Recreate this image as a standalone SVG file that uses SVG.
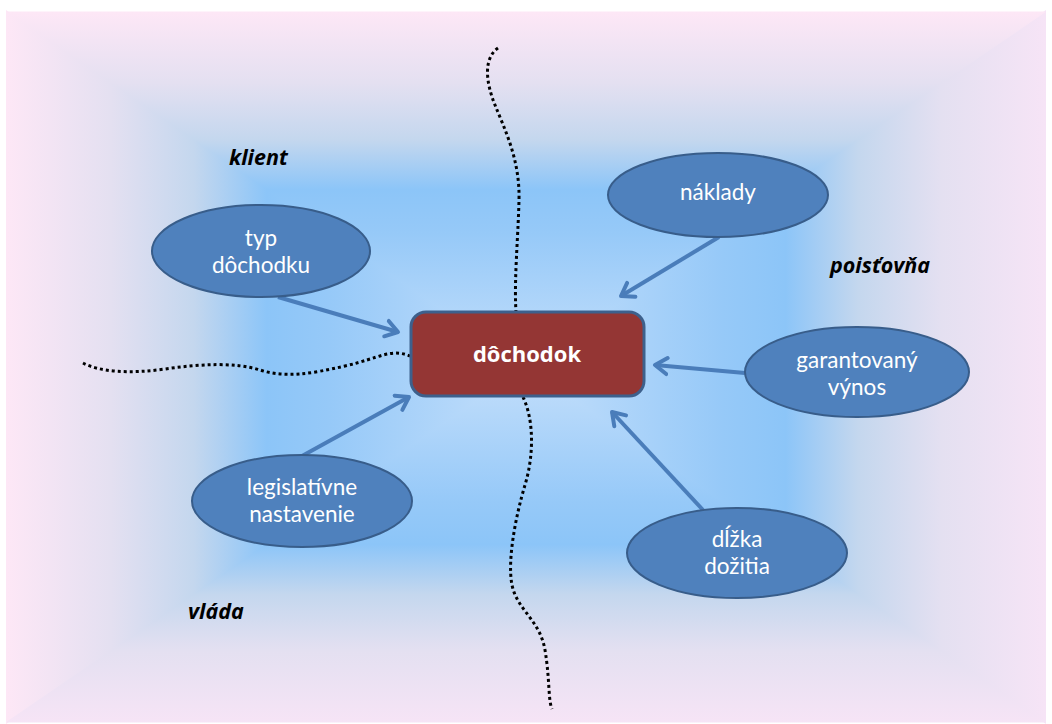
<svg xmlns="http://www.w3.org/2000/svg" width="1052" height="724" viewBox="0 0 1052 724">
  <defs>
    <linearGradient id="gTop" gradientUnits="userSpaceOnUse" x1="0" y1="12" x2="0" y2="367">
      <stop offset="0" stop-color="#fde7f6"/>
      <stop offset="0.2" stop-color="#e4e0f1"/>
      <stop offset="0.36" stop-color="#c4d7ee"/>
      <stop offset="0.5" stop-color="#8cc5f8"/>
      <stop offset="0.62" stop-color="#96c9f8"/>
      <stop offset="1" stop-color="#c4dffb"/>
    </linearGradient>
    <linearGradient id="gBot" gradientUnits="userSpaceOnUse" x1="0" y1="722" x2="0" y2="367">
      <stop offset="0" stop-color="#f6e4f6"/>
      <stop offset="0.2" stop-color="#e4e0f1"/>
      <stop offset="0.36" stop-color="#c4d7ee"/>
      <stop offset="0.5" stop-color="#8cc5f8"/>
      <stop offset="0.62" stop-color="#96c9f8"/>
      <stop offset="1" stop-color="#c4dffb"/>
    </linearGradient>
    <linearGradient id="gLeft" gradientUnits="userSpaceOnUse" x1="7" y1="0" x2="526" y2="0">
      <stop offset="0" stop-color="#fde7f6"/>
      <stop offset="0.2" stop-color="#e4e0f1"/>
      <stop offset="0.36" stop-color="#c4d7ee"/>
      <stop offset="0.5" stop-color="#8cc5f8"/>
      <stop offset="0.62" stop-color="#96c9f8"/>
      <stop offset="1" stop-color="#c4dffb"/>
    </linearGradient>
    <linearGradient id="gRight" gradientUnits="userSpaceOnUse" x1="1045" y1="0" x2="526" y2="0">
      <stop offset="0" stop-color="#f6e4f6"/>
      <stop offset="0.2" stop-color="#e4e0f1"/>
      <stop offset="0.36" stop-color="#c4d7ee"/>
      <stop offset="0.5" stop-color="#8cc5f8"/>
      <stop offset="0.62" stop-color="#96c9f8"/>
      <stop offset="1" stop-color="#c4dffb"/>
    </linearGradient>
    <marker id="arr" markerUnits="userSpaceOnUse" markerWidth="24" markerHeight="24" refX="14" refY="9" orient="auto" viewBox="0 0 24 18">
      <path d="M2,1 L14,9 L2,17" fill="none" stroke="#4a7dba" stroke-width="4" stroke-linecap="round" stroke-linejoin="round"/>
    </marker>
    <style>
      .ell { fill: #4f81bd; stroke: #385d8a; stroke-width: 2; }
      .et { font-family: Lato, "Open Sans", sans-serif; font-size: 22.5px; fill: #ffffff; text-anchor: middle; }
      .lbl { font-family: "Open Sans", "Noto Sans", sans-serif; font-size: 21.5px; font-weight: bold; font-style: italic; fill: #000000; }
      .con { fill: none; stroke: #4a7dba; stroke-width: 4; marker-end: url(#arr); }
      .dot { fill: none; stroke: #000000; stroke-width: 3; stroke-dasharray: 3 3; }
    </style>
  </defs>

  <rect x="0" y="0" width="1052" height="724" fill="#ffffff"/>
  <g id="background">
    <polygon points="7,12 7,722 526,367" fill="url(#gLeft)" stroke="url(#gLeft)" stroke-width="2"/>
    <polygon points="1045,12 1045,722 526,367" fill="url(#gRight)" stroke="url(#gRight)" stroke-width="2"/>
    <polygon points="7,12 1045,12 526,367" fill="url(#gTop)" stroke="url(#gTop)" stroke-width="1"/>
    <polygon points="7,722 1045,722 526,367" fill="url(#gBot)" stroke="url(#gBot)" stroke-width="1"/>
  </g>

  <g id="dividers">
    <path class="dot" d="M498,48 C484,58 485,80 495,105 S520,160 519,200 S514,280 516,312"/>
    <path class="dot" d="M523,397 C534,420 534,455 525,485 S507,560 512,585 S540,620 545,650 S548,700 552,709"/>
    <path class="dot" d="M83,363 C100,372 130,374 165,369 S235,362 260,370 S310,374 345,366 S390,348 410,356"/>
  </g>

  <g id="connectors">
    <line class="con" x1="278" y1="297" x2="398" y2="332"/>
    <line class="con" x1="719" y1="237" x2="621" y2="296"/>
    <line class="con" x1="745" y1="373" x2="655" y2="365"/>
    <line class="con" x1="302" y1="456" x2="409" y2="397"/>
    <line class="con" x1="703" y1="510" x2="612" y2="412"/>
  </g>

  <g id="dochodok">
    <rect x="411" y="312" width="233" height="84" rx="15" ry="15" fill="#943634" stroke="#3d608c" stroke-width="3"/>
    <text x="527" y="362" font-family="Open Sans, Noto Sans, sans-serif" font-size="22" font-weight="bold" fill="#ffffff" text-anchor="middle">dôchodok</text>
  </g>

  <g id="typ-dochodku">
    <ellipse class="ell" cx="261" cy="251" rx="109" ry="46"/>
    <text class="et" x="261" y="246">typ</text>
    <text class="et" x="261" y="273">dôchodku</text>
  </g>

  <g id="naklady">
    <ellipse class="ell" cx="718" cy="195" rx="110" ry="42"/>
    <text class="et" x="718" y="200">náklady</text>
  </g>

  <g id="garantovany-vynos">
    <ellipse class="ell" cx="857" cy="372" rx="112" ry="45"/>
    <text class="et" x="857" y="368">garantovaný</text>
    <text class="et" x="857" y="395">výnos</text>
  </g>

  <g id="legislativne-nastavenie">
    <ellipse class="ell" cx="302" cy="501" rx="110" ry="46"/>
    <text class="et" x="302" y="495">legislatívne</text>
    <text class="et" x="302" y="522">nastavenie</text>
  </g>

  <g id="dlzka-dozitia">
    <ellipse class="ell" cx="737" cy="553" rx="110" ry="45"/>
    <text class="et" x="737" y="547">dĺžka</text>
    <text class="et" x="737" y="574">dožitia</text>
  </g>

  <g id="labels">
    <text class="lbl" x="229" y="165">klient</text>
    <text class="lbl" x="830" y="273">poisťovňa</text>
    <text class="lbl" x="188" y="619">vláda</text>
  </g>
</svg>
